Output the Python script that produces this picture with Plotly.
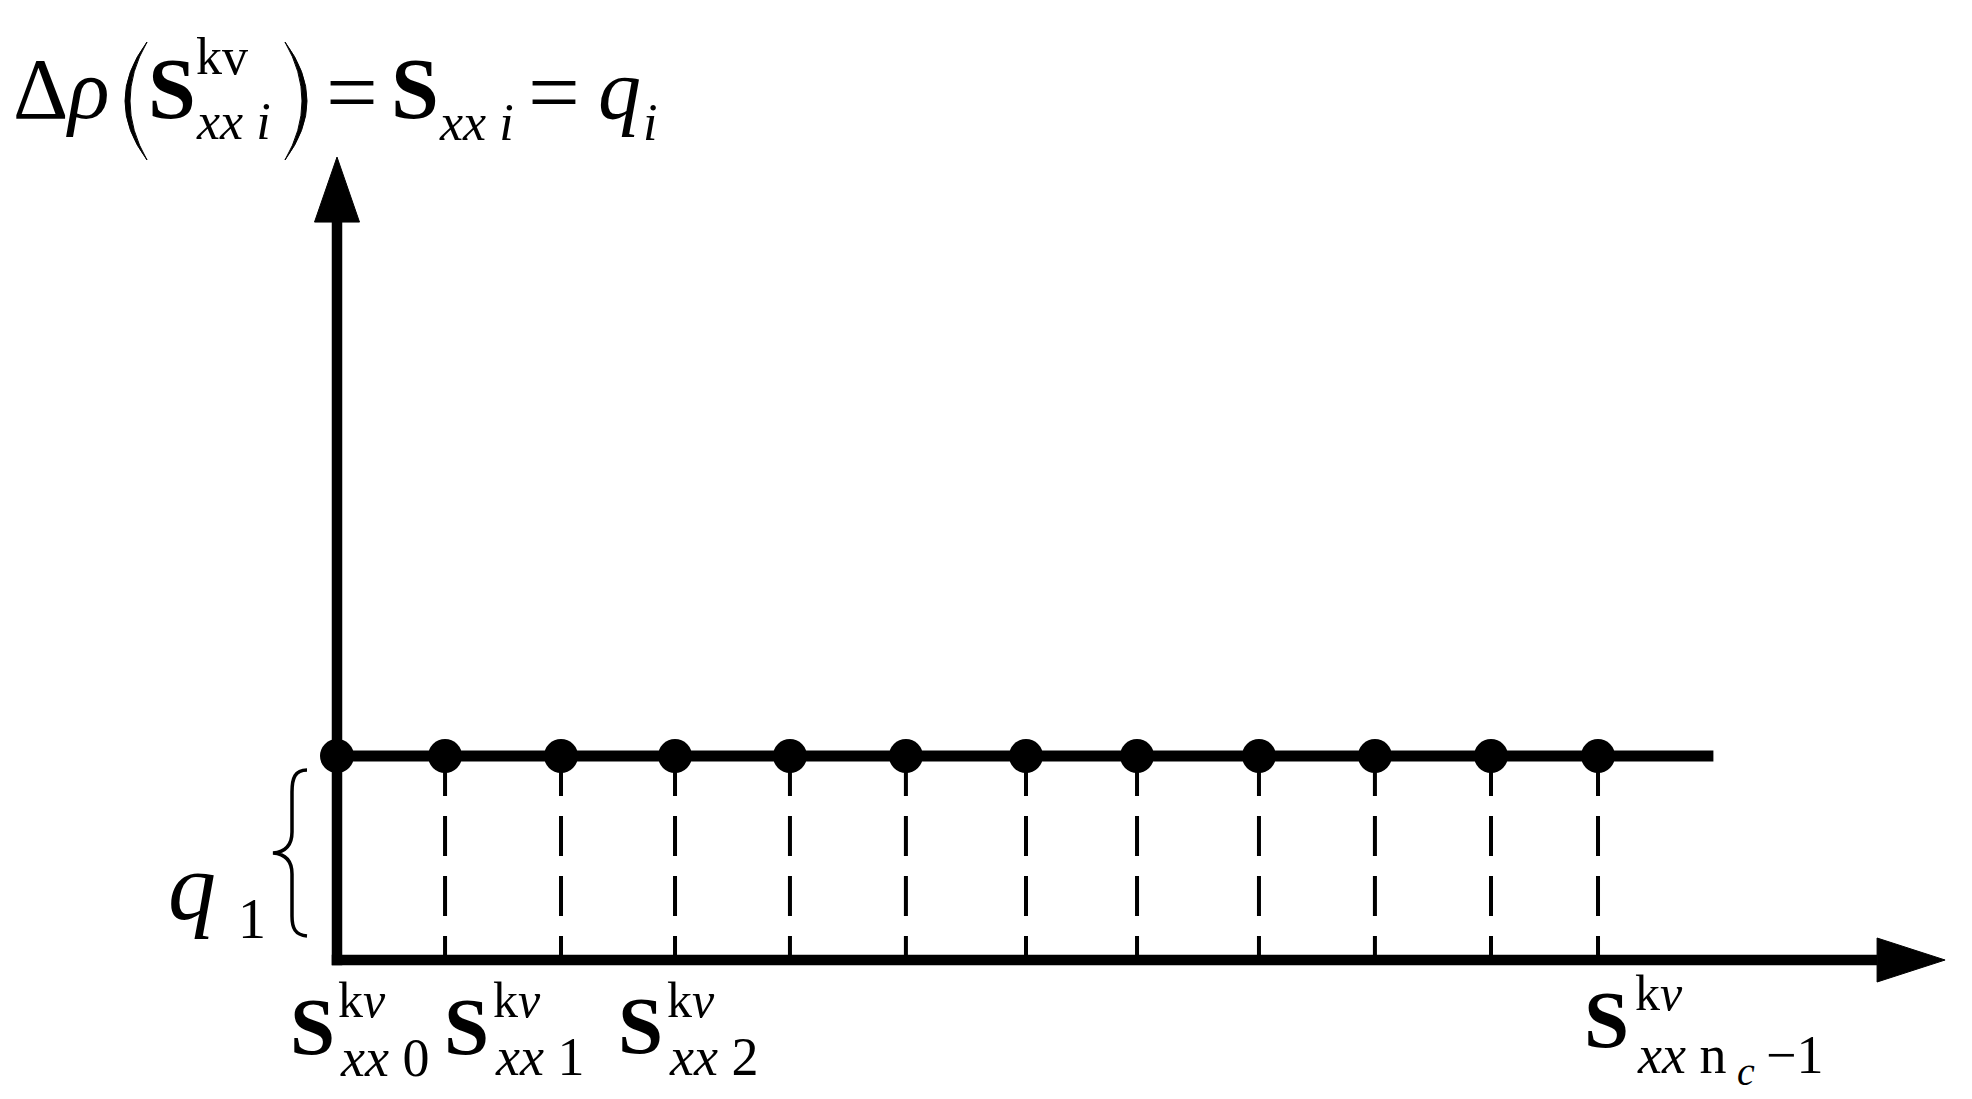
import plotly.graph_objects as go

# ---------------- data ----------------
sample_names = ["S_xx0", "S_xx1", "S_xx2", "S_xx3", "S_xx4", "S_xx5",
                "S_xx6", "S_xx7", "S_xx8", "S_xx9", "S_xx10", "S_xx(n_c-1)"]
sample_pos = [0.0, 0.942, 1.953, 2.947, 3.949, 4.960, 6.007, 6.975, 8.038, 9.049, 10.061, 10.994]
q_values = [1.0, 1.0, 1.0, 1.0, 1.0, 1.0, 1.0, 1.0, 1.0, 1.0, 1.0, 1.0]
level_end = 12.0          # where the q-level line stops (x units)
x_axis_end = 14.02        # x-axis arrow tip (x units)
y_axis_end = 3.936        # y-axis arrow tip (y units)
tick_subscripts = ["0", "1", "2", "n_c −1"]

# ---------------- layout helpers ----------------
W, H = 1972, 1099
X0_PX, Y0_PX = 337, 960       # pixel position of the origin
UX, UY = 114.7, 204.0         # pixels per data unit
FONT = "Times New Roman, Liberation Serif, Tinos, DejaVu Serif, serif"
BLACK = "#000000"

def px2x(px):
    return (px - X0_PX) / UX

def py2y(py):
    return (Y0_PX - py) / UY

def dx(px):
    return px / UX

def dy(py):
    return py / UY

fig = go.Figure()

# dashed stems from each sample down to the x axis
for xv, qv in zip(sample_pos[1:], q_values[1:]):
    fig.add_trace(go.Scatter(x=[xv, xv], y=[qv, 0], mode="lines",
                             line=dict(color=BLACK, width=4, dash="40px,20px"),
                             hoverinfo="skip", showlegend=False))

# q level line
fig.add_trace(go.Scatter(x=[0, level_end], y=[q_values[0], q_values[-1]], mode="lines",
                         line=dict(color=BLACK, width=11),
                         hoverinfo="skip", showlegend=False))

# sample points
fig.add_trace(go.Scatter(x=sample_pos, y=q_values, mode="markers",
                         marker=dict(color=BLACK, size=34, line=dict(width=0)),
                         text=sample_names, hoverinfo="text", showlegend=False,
                         cliponaxis=False))

shapes = []
AXW = 10.5
# axes lines
shapes.append(dict(type="line", xref="x", yref="y", x0=-dx(AXW / 2), y0=0,
                   x1=x_axis_end - dx(68), y1=0, line=dict(color=BLACK, width=AXW)))
shapes.append(dict(type="line", xref="x", yref="y", x0=0, y0=-dy(AXW / 2),
                   x1=0, y1=y_axis_end - dy(64), line=dict(color=BLACK, width=AXW)))
# arrowheads
shapes.append(dict(type="path", xref="x", yref="y",
                   path=f"M {x_axis_end},0 L {x_axis_end - dx(68)},{dy(22)} "
                        f"L {x_axis_end - dx(68)},{-dy(22)} Z",
                   fillcolor=BLACK, line=dict(color=BLACK, width=1)))
shapes.append(dict(type="path", xref="x", yref="y",
                   path=f"M 0,{y_axis_end} L {dx(22.5)},{y_axis_end - dy(65)} "
                        f"L {-dx(22.5)},{y_axis_end - dy(65)} Z",
                   fillcolor=BLACK, line=dict(color=BLACK, width=1)))


def pth(points):
    """points: list of (cmd, [(px,py),...]) in pixels -> data path"""
    out = []
    for cmd, pts in points:
        out.append(cmd + " " + " ".join(f"{px2x(a):.5f},{py2y(b):.5f}" for a, b in pts))
    return " ".join(out)

# large parentheses in the title
shapes.append(dict(type="path", xref="x", yref="y",
                   path=pth([("M", [(147, 42)]), ("Q", [(103, 101), (147, 160)]),
                             ("Q", [(113, 101), (147, 42)]), ("Z", [])]),
                   fillcolor=BLACK, line=dict(color=BLACK, width=1)))
shapes.append(dict(type="path", xref="x", yref="y",
                   path=pth([("M", [(285, 42)]), ("Q", [(329, 101), (285, 160)]),
                             ("Q", [(319, 101), (285, 42)]), ("Z", [])]),
                   fillcolor=BLACK, line=dict(color=BLACK, width=1)))
# curly brace next to q1
shapes.append(dict(type="path", xref="x", yref="y",
                   path=pth([("M", [(307, 770)]),
                             ("C", [(295, 770), (292, 778), (292, 792)]),
                             ("L", [(292, 832)]),
                             ("C", [(292, 845), (285, 852), (273, 853)]),
                             ("C", [(285, 854), (292, 861), (292, 874)]),
                             ("L", [(292, 916)]),
                             ("C", [(292, 928), (295, 935), (307, 936)])]),
                   line=dict(color=BLACK, width=3.5)))

annotations = []


def txt(left_px, base_py, text, size):
    annotations.append(dict(x=px2x(left_px), y=py2y(base_py - 0.3375 * size),
                            xref="x", yref="y", text=text, showarrow=False,
                            xanchor="left", yanchor="middle", borderpad=0, borderwidth=0,
                            font=dict(family=FONT, size=size, color=BLACK)))

# ---- title: Δρ(S^kv_xx i) = S_xx i = q_i ----
TM, TS, TE = 86, 52, 92
txt(13, 118, "Δ<i>ρ</i>", TM)
txt(148, 118, "<b>S</b>", TM)
txt(196, 74, "kv", TS)
txt(196, 139, "<i>xx i</i>", TS)
txt(326, 123, "=", TE)
txt(391, 118, "<b>S</b>", TM)
txt(439, 140, "<i>xx i</i>", TS)
txt(528, 123, "=", TE)
txt(598, 118, "<i>q</i>", TM)
txt(643, 140, "<i>i</i>", TS)

# ---- q1 label ----
txt(168, 919, "<i>q</i>", 96)
txt(238, 938, "1", 56)

# ---- sample labels under the x axis ----
LM, LS = 81, 50
label_layout = [  # S left px, S baseline, script left px, sup baseline, sub baseline
    (290, 1054, 338, 1017, 1076),
    (444, 1054, 493, 1017, 1075),
    (618, 1053, 667, 1017, 1075),
    (1584, 1047, 1635, 1010, 1073),
]
for sub, (sl, sb, scl, supb, subb) in zip(tick_subscripts, label_layout):
    txt(sl, sb, "<b>S</b>", LM)
    txt(scl, supb, "k<i>v</i>", LS)
    if "n_c" in sub:
        txt(scl + 2, subb, "<i>xx</i> n", 54)
        txt(scl + 102, subb + 12, "<i>c</i>", 40)
        txt(scl + 131, subb, sub.split(" ")[1], 54)
    else:
        txt(scl + 2, subb, "<i>xx</i> " + sub, 54)

fig.update_layout(
    width=W, height=H,
    margin=dict(l=0, r=0, t=0, b=0),
    paper_bgcolor="white", plot_bgcolor="white",
    xaxis=dict(visible=False, range=[-X0_PX / UX, (W - X0_PX) / UX], fixedrange=True),
    yaxis=dict(visible=False, range=[-(H - Y0_PX) / UY, Y0_PX / UY], fixedrange=True),
    shapes=shapes, annotations=annotations, showlegend=False,
)

fig.write_html("out.html",
               config={"displayModeBar": False},
               post_script="document.body.style.margin='0';"
                           "document.body.style.overflow='hidden';")
